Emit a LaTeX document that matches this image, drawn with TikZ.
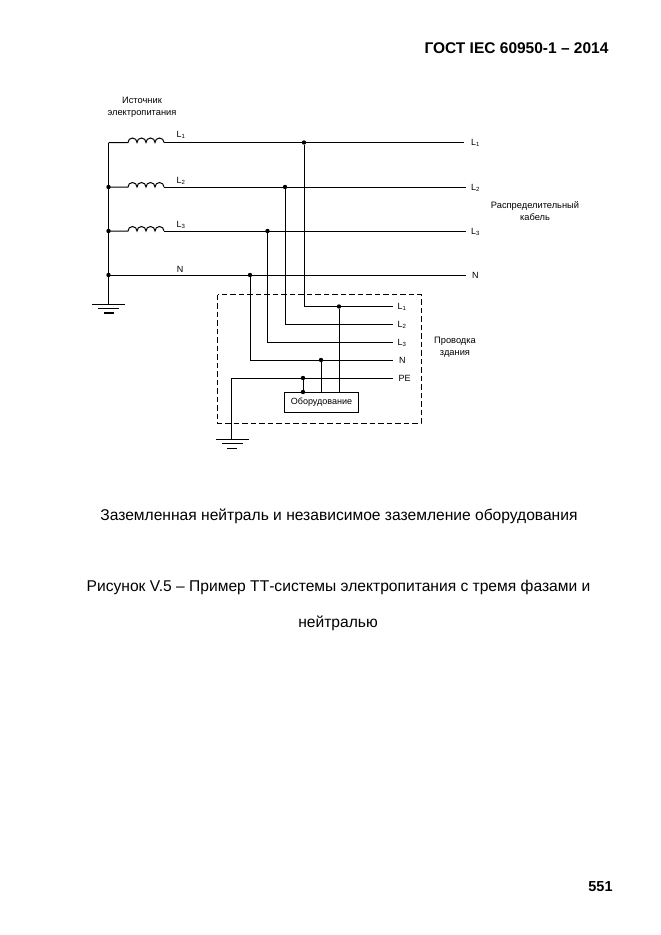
\documentclass[tikz,border=0pt]{standalone}
\usepackage{fontspec}
\setmainfont{Liberation Sans}
\tikzset{
    wire/.style={line width=1pt},
    tag/.style={inner sep=0pt,font=\fontsize{9}{10}\selectfont},
    note/.style={inner sep=0pt,align=center,font=\fontsize{9.3}{12}\selectfont},
    caption/.style={inner sep=0pt,font=\fontsize{15.6}{18}\selectfont},
    joint/.style={circle,fill=black,inner sep=0pt,minimum size=4.4pt}
}
\begin{document}
\begin{tikzpicture}[x=1pt,y=-1pt]

\useasboundingbox (0,0) rectangle (661,935);

% page texts
\node[inner sep=0pt,font=\fontsize{15.5}{18}\selectfont\bfseries] (title) at (516.5,48) {ГОСТ IEC 60950-1 – 2014};
\node[inner sep=0pt,font=\fontsize{14.5}{16}\selectfont\bfseries] (pagenum) at (600.5,887) {551};
\node[caption] (capa) at (339,516) {Заземленная нейтраль и независимое заземление оборудования};
\node[caption] (capb) at (338.5,587) {Рисунок V.5 – Пример ТТ-системы электропитания с тремя фазами и};
\node[caption] (capc) at (338,623) {нейтралью};

% source side
\coordinate (b1) at (108.5,142.5);
\coordinate (b2) at (108.5,187);
\coordinate (b3) at (108.5,231);
\coordinate (bn) at (108.5,275);
\coordinate (gnda) at (108.5,304);

\foreach \i/\y in {1/142.5,2/187,3/231}
{
    \coordinate (ca\i) at (128,\y);
    \coordinate (cb\i) at (164,\y);
    \draw[wire] (b\i) -- (ca\i) arc (180:360:4.5) arc (180:360:4.5) arc (180:360:4.5) arc (180:360:4.5);
}

\node[note] (source) at (142,107) {Источник\\электропитания};
\node[tag] (lu1) at (181,135) {L\textsubscript{1}};
\node[tag] (lu2) at (181,180.5) {L\textsubscript{2}};
\node[tag] (lu3) at (181,225) {L\textsubscript{3}};
\node[tag] (lun) at (180,269) {N};

% distribution cable
\node[tag,anchor=west] (r1) at (471,143) {L\textsubscript{1}};
\node[tag,anchor=west] (r2) at (471,187.5) {L\textsubscript{2}};
\node[tag,anchor=west] (r3) at (471,231.5) {L\textsubscript{3}};
\node[tag,anchor=west] (rn) at (472,275) {N};
\node[note] (cable) at (535,211) {Распределительный\\кабель};

\coordinate (e1) at (464,142.5);
\coordinate (e2) at (466,187);
\coordinate (e3) at (466,231);
\coordinate (en) at (466,275);

\draw[wire] (cb1) -- (e1);
\draw[wire] (cb2) -- (e2);
\draw[wire] (cb3) -- (e3);
\draw[wire] (bn) -- (en);
\draw[wire] (b1) -- (gnda);

% taps down to the building
\node[joint] (t1) at (304,142.5) {};
\node[joint] (t2) at (285,187) {};
\node[joint] (t3) at (267.5,231) {};
\node[joint] (tn) at (250,275) {};
\node[joint] (j2) at (108.5,187) {};
\node[joint] (j3) at (108.5,231) {};
\node[joint] (jn) at (108.5,275) {};

% building wiring
\draw[wire,dash pattern=on 5.5pt off 3pt] (217.5,294.5) rectangle (421,423);
\node[note] (wiring) at (455,347) {Проводка\\здания};

\node[tag,anchor=west] (i1) at (397.5,307) {L\textsubscript{1}};
\node[tag,anchor=west] (i2) at (397.5,325) {L\textsubscript{2}};
\node[tag,anchor=west] (i3) at (397.5,343) {L\textsubscript{3}};
\node[tag,anchor=west] (in) at (399,360) {N};
\node[tag,anchor=west] (ipe) at (398.5,378) {PE};

\coordinate (w1) at (393,306.5);
\coordinate (w2) at (393,324.5);
\coordinate (w3) at (393,342.5);
\coordinate (wn) at (393,360);
\coordinate (wpe) at (393,378);

\draw[wire] (t1) |- (w1);
\draw[wire] (t2) |- (w2);
\draw[wire] (t3) |- (w3);
\draw[wire] (tn) |- (wn);

\node[draw,wire,minimum width=74.5pt,minimum height=20pt,inner sep=0pt,font=\fontsize{9}{10}\selectfont] (equip) at (321.5,402.3) {Оборудование};

\node[joint] (k1) at (339,306.5) {};
\node[joint] (kn) at (321,360) {};
\node[joint] (kpe) at (303,378) {};
\node[joint] (kb) at (303,392) {};

\draw[wire] (k1) -- (k1 |- equip.north);
\draw[wire] (kn) -- (kn |- equip.north);
\draw[wire] (kpe) -- (kb);

\coordinate (gndb) at (231.5,439.5);
\draw[wire] (wpe) -| (gndb);

% earth symbols
\draw[wire] (92,304) -- (125,304);
\draw[line width=1.4pt] (97.5,308.7) -- (119,308.7);
\draw[line width=1.4pt] (104,313) -- (114,313);
\draw[wire] (216,439.5) -- (249,439.5);
\draw[line width=1.4pt] (222,443.7) -- (243,443.7);
\draw[wire] (227,448) -- (237,448);

\end{tikzpicture}
\end{document}
